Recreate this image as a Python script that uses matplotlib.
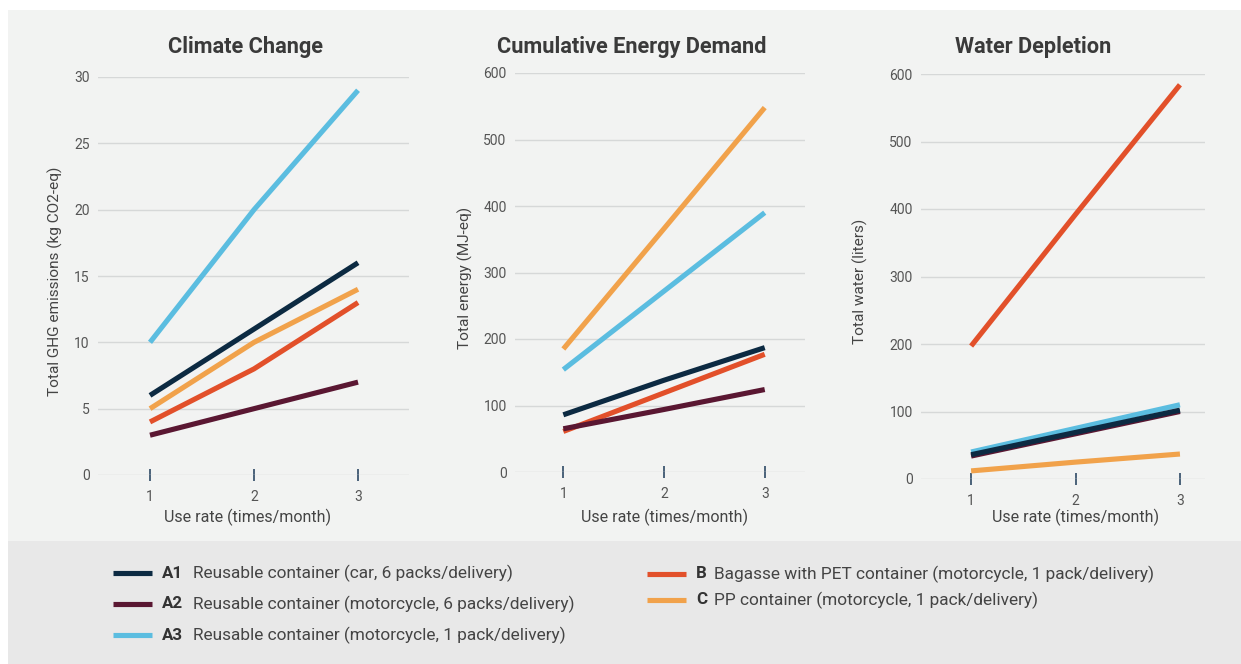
import matplotlib
matplotlib.use("Agg")
import matplotlib.pyplot as plt
from matplotlib.patches import Rectangle
from matplotlib.lines import Line2D

plt.rcParams['font.family'] = ['Roboto', 'DejaVu Sans']

use_rate = [1, 2, 3]

series_keys = ["A1", "A2", "A3", "B", "C"]
series_labels = [
    "Reusable container (car, 6 packs/delivery)",
    "Reusable container (motorcycle, 6 packs/delivery)",
    "Reusable container (motorcycle, 1 pack/delivery)",
    "Bagasse with PET container (motorcycle, 1 pack/delivery)",
    "PP container (motorcycle, 1 pack/delivery)",
]
series_colors = ["#0c2a42", "#5a1732", "#5bbde0", "#e2502a", "#f1a24b"]

climate = {
    "A1": [6, 11, 16],
    "A2": [3, 5, 7],
    "A3": [10, 20, 29],
    "B": [4, 8, 13],
    "C": [5, 10, 14],
}
energy = {
    "A1": [86, 138, 187],
    "A2": [65, 94, 124],
    "A3": [154, 272, 390],
    "B": [61, 119, 177],
    "C": [185, 366, 548],
}
water = {
    "A1": [36, 69, 102],
    "A2": [34, 67, 100],
    "A3": [40, 75, 110],
    "B": [197, 392, 584],
    "C": [12, 25, 37],
}

titles = ["Climate Change", "Cumulative Energy Demand", "Water Depletion"]
ylabels = ["Total GHG emissions (kg CO2-eq)", "Total energy (MJ-eq)", "Total water (liters)"]
xlabel = "Use rate (times/month)"
yticks_list = [[0, 5, 10, 15, 20, 25, 30], [0, 100, 200, 300, 400, 500, 600],
               [0, 100, 200, 300, 400, 500, 600]]
datasets = [climate, energy, water]

W, H = 1241, 664
fig = plt.figure(figsize=(W / 100, H / 100), dpi=100)
fig.patch.set_facecolor("white")

def fx(px):
    return px / W

def fy(py):
    return 1 - py / H

# backgrounds
fig.patches.append(Rectangle((fx(8), fy(541)), 1 - fx(8), fy(10) - fy(541),
                             transform=fig.transFigure, facecolor="#f2f3f2",
                             edgecolor="none", zorder=-10))
fig.patches.append(Rectangle((fx(8), 0), 1 - fx(8), fy(541),
                             transform=fig.transFigure, facecolor="#e8e8e8",
                             edgecolor="none", zorder=-10))

# axes pixel boxes: left, right, y of zero, y of top tick
boxes = [(98, 409, 475, 77), (515, 805, 472, 73), (921, 1205, 479, 74)]
xlims = [(0.5, 3.49), (0.52, 3.4), (0.52, 3.24)]
title_x = [246, 632, 1033]
ylabel_x = [55, 465, 860]
xlabel_x = [248, 665, 1076]

draw_order = ["C", "B", "A3", "A2", "A1"]

for i in range(3):
    l, r, y0, yt = boxes[i]
    ymax = yticks_list[i][-1]
    ax = fig.add_axes([fx(l), fy(y0), fx(r) - fx(l), fy(yt) - fy(y0)])
    ax.set_facecolor("none")
    ax.set_xlim(*xlims[i])
    ax.set_ylim(0, ymax)
    for k in draw_order:
        idx = series_keys.index(k)
        ax.plot(use_rate, datasets[i][k], color=series_colors[idx], lw=3.7,
                solid_capstyle="butt", clip_on=False, zorder=3)
    for s in ax.spines.values():
        s.set_visible(False)
    ax.set_yticks(yticks_list[i])
    ax.set_xticks(use_rate)
    ax.grid(axis="y", color="#d6d8d8", lw=1.0, zorder=0)
    ax.set_axisbelow(True)
    ax.tick_params(axis="y", length=0, pad=6, labelsize=10, labelcolor="#555555")
    ax.tick_params(axis="x", direction="inout", length=9, width=1.3,
                   color="#3d5670", pad=6, labelsize=10, labelcolor="#555555")
    fig.text(fx(title_x[i]), fy(47), titles[i], ha="center", va="center",
             fontsize=15.7, fontweight="bold", color="#3a3a3a")
    fig.text(fx(ylabel_x[i]), fy((y0 + yt) / 2 + 5), ylabels[i], ha="center",
             va="center", rotation=90, fontsize=11.1, color="#444444")
    fig.text(fx(xlabel_x[i]), fy(517), xlabel, ha="center", va="center",
             fontsize=11.5, color="#444444")

# legend
leg_items = [
    ("A1", 113, 573), ("A2", 113, 604), ("A3", 113, 635),
    ("B", 647, 574), ("C", 647, 600),
]
for key, x0, yy in leg_items:
    idx = series_keys.index(key)
    fig.add_artist(Line2D([fx(x0), fx(x0 + 39)], [fy(yy), fy(yy)],
                          transform=fig.transFigure, color=series_colors[idx],
                          lw=3.7, solid_capstyle="butt"))
    fig.text(fx(x0 + 49), fy(yy), key, ha="left", va="center", fontsize=12.2,
             fontweight="bold", color="#333333")
    tx = x0 + 80 if key.startswith("A") else x0 + 67
    fig.text(fx(tx), fy(yy), series_labels[idx], ha="left", va="center",
             fontsize=12.4, color="#444444")

fig.savefig("out.png", dpi=100, facecolor=fig.get_facecolor())
